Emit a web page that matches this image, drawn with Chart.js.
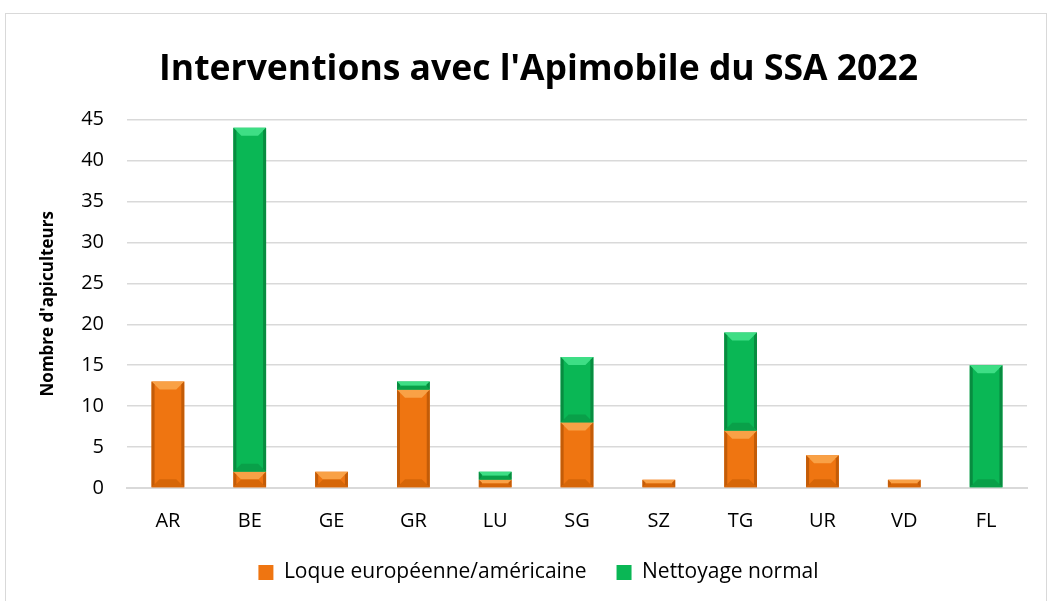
<!DOCTYPE html>
<html>
<head>
<meta charset="utf-8">
<script src="https://cdn.jsdelivr.net/npm/chart.js@4"></script>
<style>
  html, body { margin: 0; padding: 0; background: #fff; }
  #box { position: absolute; left: 5px; top: 13px; width: 1042px; height: 600px; border: 1px solid #d9d9d9; box-sizing: border-box; }
  #wrap { position: absolute; left: 0; top: 0; width: 1053px; height: 601px; }
</style>
</head>
<body>
<div id="box"></div>
<div id="wrap"><canvas id="c" width="1053" height="601"></canvas></div>
<script>
// données
const cantons = ['AR', 'BE', 'GE', 'GR', 'LU', 'SG', 'SZ', 'TG', 'UR', 'VD', 'FL'];
const loque = [13, 2, 2, 12, 1, 8, 1, 7, 4, 1, 0];
const nettoyage = [0, 42, 0, 1, 1, 8, 0, 12, 0, 0, 15];
const yTicks = [0, 5, 10, 15, 20, 25, 30, 35, 40, 45];

const FONT = "'Open Sans', 'Liberation Sans', sans-serif";

// effet "biseau" comme dans Excel
const bevelPlugin = {
  id: 'bevel',
  afterDatasetsDraw(chart) {
    const ctx = chart.ctx;
    chart.data.datasets.forEach((ds, i) => {
      const meta = chart.getDatasetMeta(i);
      meta.data.forEach((bar, j) => {
        if (!ds.data[j]) return;
        const p = bar.getProps(['x', 'y', 'base', 'width'], true);
        const l = p.x - p.width / 2, r = p.x + p.width / 2;
        const t = Math.min(p.y, p.base), b = Math.max(p.y, p.base);
        const h = b - t;
        const bv = Math.min(8, h / 2);
        ctx.save();
        // haut clair
        ctx.fillStyle = ds.bevelLight;
        ctx.beginPath();
        ctx.moveTo(l, t); ctx.lineTo(r, t); ctx.lineTo(r - bv, t + bv); ctx.lineTo(l + bv, t + bv); ctx.closePath();
        ctx.fill();
        // bas foncé
        ctx.fillStyle = ds.bevelDark;
        ctx.beginPath();
        ctx.moveTo(l, b); ctx.lineTo(r, b); ctx.lineTo(r - bv, b - bv); ctx.lineTo(l + bv, b - bv); ctx.closePath();
        ctx.fill();
        // côtés
        ctx.fillStyle = ds.bevelSide;
        ctx.beginPath();
        ctx.moveTo(l, t); ctx.lineTo(l + 3, t + 3); ctx.lineTo(l + 3, b - 3); ctx.lineTo(l, b); ctx.closePath();
        ctx.fill();
        ctx.beginPath();
        ctx.moveTo(r, t); ctx.lineTo(r - 3, t + 3); ctx.lineTo(r - 3, b - 3); ctx.lineTo(r, b); ctx.closePath();
        ctx.fill();
        ctx.restore();
      });
    });
  }
};

new Chart(document.getElementById('c'), {
  type: 'bar',
  data: {
    labels: cantons,
    datasets: [
      {
        label: 'Loque européenne/américaine',
        data: loque,
        backgroundColor: '#ef7511',
        borderWidth: 0,
        bevelLight: '#f9a146',
        bevelDark: '#d66608',
        bevelSide: '#c35c08'
      },
      {
        label: 'Nettoyage normal',
        data: nettoyage,
        backgroundColor: '#0ab755',
        borderWidth: 0,
        bevelLight: '#3ede85',
        bevelDark: '#09a049',
        bevelSide: '#088c40'
      }
    ]
  },
  options: {
    responsive: false,
    animation: false,
    datasets: { bar: { barPercentage: 0.4, categoryPercentage: 1 } },
    layout: { padding: { left: 50, right: 26, top: 49, bottom: 15 } },
    plugins: {
      title: {
        display: true,
        text: "Interventions avec l'Apimobile du SSA 2022",
        color: '#000',
        font: { family: FONT, size: 35.5, weight: 'bold' },
        padding: { top: 0, bottom: 28 }
      },
      legend: {
        position: 'bottom',
        maxHeight: 54,
        labels: {
          color: '#000',
          font: { family: FONT, size: 21 },
          boxWidth: 15,
          boxHeight: 15,
          padding: 30
        }
      },
      tooltip: { enabled: false }
    },
    scales: {
      x: {
        stacked: true,
        afterFit(axis) { axis.height = 44; },
        grid: { display: false },
        border: { color: '#d9d9d9', width: 2 },
        ticks: { color: '#000', font: { family: FONT, size: 20 }, padding: 13 }
      },
      y: {
        stacked: true,
        min: 0,
        max: 45,
        afterFit(axis) { axis.width = 77; },
        afterBuildTicks(axis) { axis.ticks = yTicks.map(v => ({ value: v })); },
        grid: { color: '#d9d9d9', lineWidth: 1.5, drawTicks: false },
        border: { display: false },
        ticks: { color: '#000', font: { family: FONT, size: 20 }, padding: 23 },
        title: {
          display: true,
          text: "Nombre d'apiculteurs",
          color: '#000',
          font: { family: FONT, size: 17, weight: 'bold' },
          padding: { top: -12, bottom: 0 }
        }
      }
    }
  },
  plugins: [bevelPlugin]
});
</script>
</body>
</html>
